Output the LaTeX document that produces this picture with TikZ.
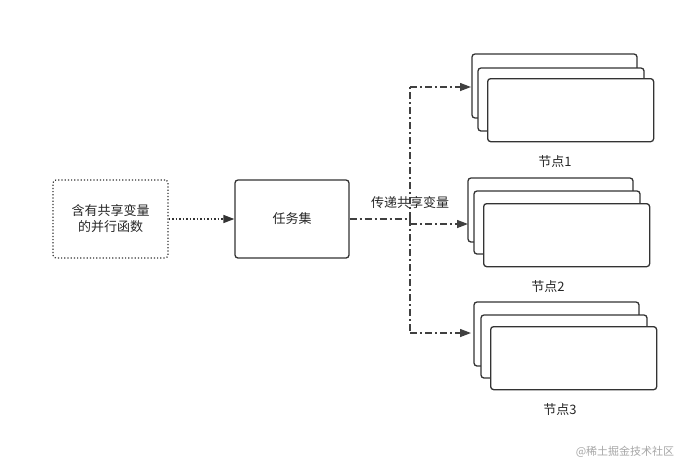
\documentclass[tikz,border=0pt]{standalone}
\usepackage{fontspec}
\setmainfont{Noto Sans CJK SC}
\usetikzlibrary{arrows.meta}
\begin{document}
\begin{tikzpicture}[x=1pt,y=-1pt,
  box/.style={draw=black!80,line width=1.3pt,rounded corners=3pt,fill=white},
  lbl/.style={font=\fontsize{13}{16}\selectfont,text=black!85},
  dd/.style={draw=black!75,line width=1.3pt,dash pattern=on 7pt off 3pt on 2pt off 3pt},
  tip/.style={-{Triangle[length=11pt,width=8pt]}}]
\useasboundingbox (0,0) rectangle (692,467);
\node[draw=black!80,line width=1.2pt,dotted,rounded corners=3pt,minimum width=115pt,minimum height=78pt,lbl,align=center] (src) at (110.5,219) {含有共享变量\\的并行函数};
\node[box,minimum width=114pt,minimum height=78pt,lbl] (task) at (292,219) {任务集};
\draw[draw=black!80,line width=1.5pt,dotted,tip] (src) -- (task);
% node stacks
\foreach \n/\xa/\ya/\xb/\yb/\xc/\yc in {1/472/54/478/68/487/78, 2/468/178/474/191/483/203, 3/474/302/481/315/490/326}{
  \path[box] (\xa,\ya) rectangle ++(165,64);
  \path[box] (\xb,\yb) rectangle ++(166,63);
  \node[box,minimum width=166pt,minimum height=63pt,anchor=north west] (n\n) at (\xc,\yc) {};
}
\node[lbl] (l1) at (555,162) {节点1};
\node[lbl] (l2) at (548,287) {节点2};
\node[lbl] (l3) at (560,410) {节点3};
\coordinate (j) at (410,219);
\coordinate (t1) at (410,87);
\coordinate (t3) at (410,333);
\coordinate (e1) at (471,87);
\coordinate (e2) at (468,224);
\coordinate (e3) at (471,333);
\draw[dd] (task.east) -- (j);
\draw[dd] (j) -- (t1);
\draw[dd] (j) -- (t3);
\draw[dd,tip] (t1) -- (e1);
\draw[dd,tip] (410,224) -- (e2);
\draw[dd,tip] (t3) -- (e3);
\node[lbl] (pass) at (410,203) {传递共享变量};
\node[font=\fontsize{11}{13}\selectfont,text=black!35] (wm) at (625,452) {@稀土掘金技术社区};
\end{tikzpicture}
\end{document}
